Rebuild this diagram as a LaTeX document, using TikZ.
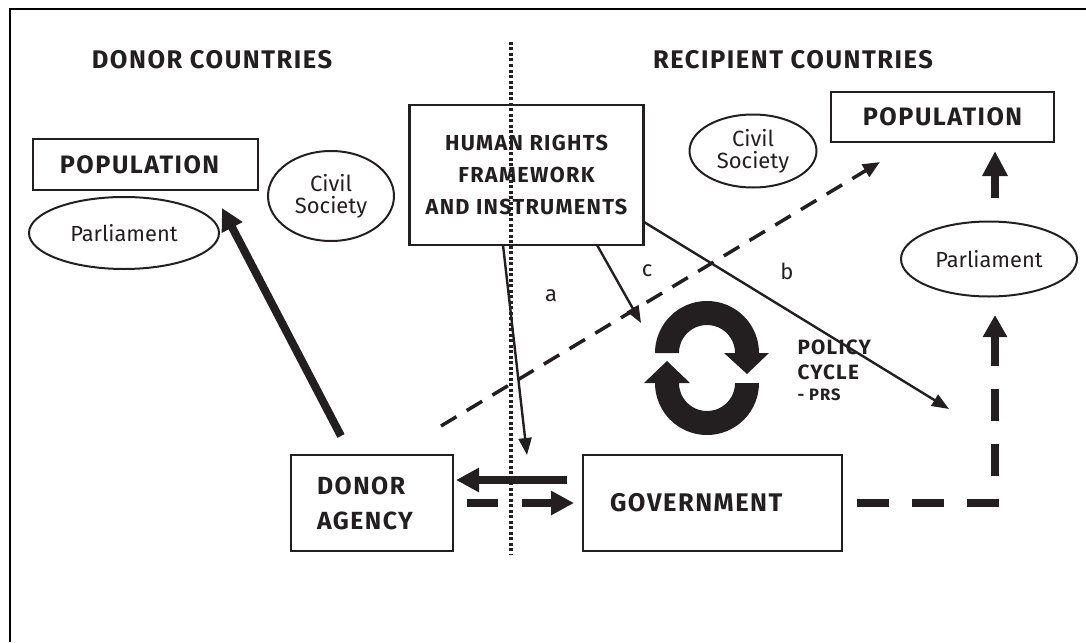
\documentclass[tikz,border=0pt]{standalone}
\usepackage{fontspec}
\setmainfont{Fira Sans}
\newfontfamily\capf[LetterSpace=6]{Fira Sans}
\usetikzlibrary{arrows.meta,shapes.geometric}
\definecolor{ink}{HTML}{231F20}
\begin{document}
\begin{tikzpicture}[x=1pt,y=-1pt,
  every node/.style={text=ink},
  boxnode/.style={draw=ink, line width=2.6pt, inner sep=0pt, align=center,
     font=\capf\bfseries\fontsize{25.5}{32}\selectfont},
  oval/.style={draw=ink, ellipse, line width=2pt, inner sep=0pt, align=center},
  head/.style={font=\capf\bfseries\fontsize{25.5}{28}\selectfont},
  letter/.style={font=\fontsize{22}{26}\selectfont},
  thinarrow/.style={draw=ink, line width=2.4pt, -{Triangle[length=17pt,width=13pt]}},
  thickarrow/.style={draw=ink, line width=8pt, -{Triangle[length=23pt,width=23pt]}},
  thickdash/.style={draw=ink, line width=8pt, dash pattern=on 31pt off 24pt},
  thindash/.style={draw=ink, line width=3.5pt, dash pattern=on 18pt off 12pt,
     -{Triangle[length=17pt,width=14pt]}}
]
\useasboundingbox (0,0) rectangle (1086,642);
\draw[line width=2.2pt, draw=black] (10,642) -- (10,9) -- (1086,9);

% divider
\draw[ink, line width=3.2pt, dash pattern=on 3pt off 2.5pt] (511,42) -- (511,555);

% headings
\node[head] (donorc) at (212,60) {DONOR COUNTRIES};
\node[head] (recipc) at (793,60) {RECIPIENT COUNTRIES};

% boxes
\node[boxnode, minimum width=234pt, minimum height=140pt,
      font=\capf\bfseries\fontsize{21.7}{32}\selectfont] (hr) at (526.5,175)
      {HUMAN RIGHTS\\FRAMEWORK\\AND INSTRUMENTS};
\node[boxnode, minimum width=225pt, minimum height=51pt,
      font=\capf\bfseries\fontsize{25.2}{28}\selectfont] (lpop) at (145.5,164.5) {POPULATION\hspace*{12pt}};
\node[boxnode, minimum width=223pt, minimum height=50pt,
      font=\capf\bfseries\fontsize{25.2}{28}\selectfont] (rpop) at (942.5,117) {POPULATION};
\node[boxnode, minimum width=162pt, minimum height=96pt, align=left,
      text width=110pt, font=\capf\bfseries\fontsize{24.8}{35}\selectfont] (donor) at (372,503) {DONOR\\AGENCY};
\node[boxnode, minimum width=259pt, minimum height=96pt, align=left,
      text width=205pt] (gov) at (712.5,503) {GOVERNMENT};

% ellipses
\node[oval, minimum width=190pt, minimum height=72pt, font=\fontsize{21.8}{24}\selectfont] (lparl) at (124,233) {Parliament};
\node[oval, minimum width=126pt, minimum height=90pt, font=\fontsize{22}{22}\selectfont] (lciv) at (331,196) {Civil\\Society};
\node[oval, minimum width=127pt, minimum height=73pt, font=\fontsize{22}{22}\selectfont] (rciv) at (753,151) {Civil\\Society};
\node[oval, minimum width=176pt, minimum height=75pt, font=\fontsize{21.8}{24}\selectfont] (rparl) at (989,259) {Parliament};

% policy cycle text
\node[anchor=west, font=\capf\bfseries\fontsize{20.7}{24}\selectfont] (pol) at (794,347) {POLICY};
\node[anchor=west, font=\capf\bfseries\fontsize{20.7}{24}\selectfont] (cyc) at (794,372) {CYCLE};
\node[anchor=west, font=\capf\bfseries\fontsize{16.5}{18}\selectfont] (prs) at (794,395) {- PRS};

% cycle icon
\fill[ink] plot[domain=180:360, samples=50] ({707+52*cos(\x)},{353+52*sin(\x)})
   -- (769,353) -- (747,374) -- (724,353) -- (735,353)
   -- plot[domain=360:180, samples=50] ({707+28*cos(\x)},{353+28*sin(\x)}) -- cycle;
\fill[ink] plot[domain=0:180, samples=50] ({707+52*cos(\x)},{383+52*sin(\x)})
   -- (644,383) -- (667,361) -- (690,383) -- (679,383)
   -- plot[domain=180:0, samples=50] ({707+28*cos(\x)},{383+28*sin(\x)}) -- cycle;

% labels
\node[letter] (la) at (551,296) {a};
\node[letter] (lc) at (647,271) {c};
\node[letter] (lb) at (787,271) {b};

% coordinates
\coordinate (aS) at (503,245);
\coordinate (aE) at (527,455);
\coordinate (cS) at (597,245);
\coordinate (cE) at (641,323);
\coordinate (bS) at (644,222);
\coordinate (bE) at (949,409);
\coordinate (dS) at (441,426);
\coordinate (dE) at (880,162);
\coordinate (lpS) at (341,436);
\coordinate (lpE) at (222,208);
\coordinate (rpS) at (995,198);
\coordinate (rpE) at (995,151);
\coordinate (g2dS) at (567,480);
\coordinate (g2dE) at (456,480);
\coordinate (d2gS) at (467,503);
\coordinate (d2gE) at (574,503);
\coordinate (g2pS) at (857,503);
\coordinate (g2pC) at (995,503);
\coordinate (g2pE) at (995,315);

% connectors
\draw[thinarrow] (aS) -- (aE);
\draw[thinarrow] (cS) -- (cE);
\draw[thinarrow] (bS) -- (bE);
\draw[thindash] (dS) -- (dE);
\draw[thickarrow, -{Triangle[length=22pt,width=22pt]}] (lpS) -- (lpE);
\draw[thickarrow, -{Triangle[length=25pt,width=24pt]}] (rpS) -- (rpE);
\draw[thickarrow] (g2dS) -- (g2dE);
\draw[thickdash, dash pattern=on 31pt off 24pt, -{Triangle[length=23pt,width=23pt]}] (d2gS) -- (d2gE);
\draw[thickdash, dash pattern=on 32pt off 23pt, -{Triangle[length=22pt,width=23pt]}] (g2pS) -- (g2pC) -- (g2pE);
\end{tikzpicture}
\end{document}
